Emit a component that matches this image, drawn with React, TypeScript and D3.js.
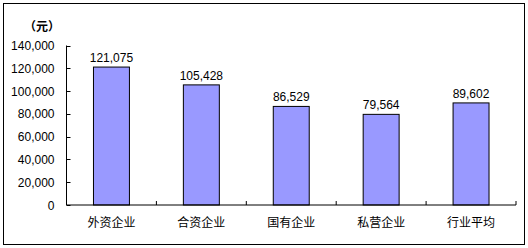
import React from "react";
import * as d3 from "d3";

const categories = ["外资企业", "合资企业", "国有企业", "私营企业", "行业平均"];
const values = [121075, 105428, 86529, 79564, 89602];
const yTicks = [0, 20000, 40000, 60000, 80000, 100000, 120000, 140000];
const unitLabel = "（元）";

const W = 528;
const H = 248;
const left = 66.5;
const right = 516;
const top = 45.5;
const bottom = 205;

export default function App() {
  const x = d3.scaleBand<string>().domain(categories).range([left, right]).paddingInner(0.6).paddingOuter(0.3);
  const y = d3.scaleLinear().domain([0, 140000]).range([bottom, top]);
  const fmt = d3.format(",");
  const step = (right - left) / categories.length;
  const numFont = "'Liberation Sans', Arial, sans-serif";
  const cjkFont = "'Noto Sans CJK SC', sans-serif";
  return (
    <svg width={W} height={H} style={{ position: "absolute", left: 0, top: 0, background: "#fff" }}>
      <rect x={3.5} y={3.5} width={521} height={241} fill="#fff" stroke="#000" strokeWidth={1} />
      <text x={42} y={31} textAnchor="middle" fontFamily={cjkFont} fontSize={12} fontWeight="bold">{unitLabel}</text>
      {yTicks.map((t) => (
        <g key={t}>
          <line x1={left} x2={left + 4} y1={Math.round(y(t)) + 0.5} y2={Math.round(y(t)) + 0.5} stroke="#000" />
          <text x={54.5} y={y(t) + 4.5} textAnchor="end" fontFamily={numFont} fontSize={12} fill="#000">{fmt(t)}</text>
        </g>
      ))}
      {categories.map((c, i) => (
        <line key={"xt" + i} x1={left + step * (i + 1)} x2={left + step * (i + 1)} y1={bottom} y2={bottom - 4} stroke="#000" />
      ))}
      {categories.map((c, i) => (
        <g key={c}>
          <rect x={x(c)!} y={y(values[i])} width={x.bandwidth()} height={bottom - y(values[i])} fill="#9999FF" stroke="#000" strokeWidth={1} />
          <text x={x(c)! + x.bandwidth() / 2} y={y(values[i]) - 5} textAnchor="middle" fontFamily={numFont} fontSize={12} fill="#000">{fmt(values[i])}</text>
          <text x={x(c)! + x.bandwidth() / 2} y={227} textAnchor="middle" fontFamily={cjkFont} fontSize={12} fill="#000">{c}</text>
        </g>
      ))}
      <line x1={left} x2={left} y1={top} y2={bottom} stroke="#000" />
      <line x1={left} x2={right} y1={bottom} y2={bottom} stroke="#000" />
    </svg>
  );
}
